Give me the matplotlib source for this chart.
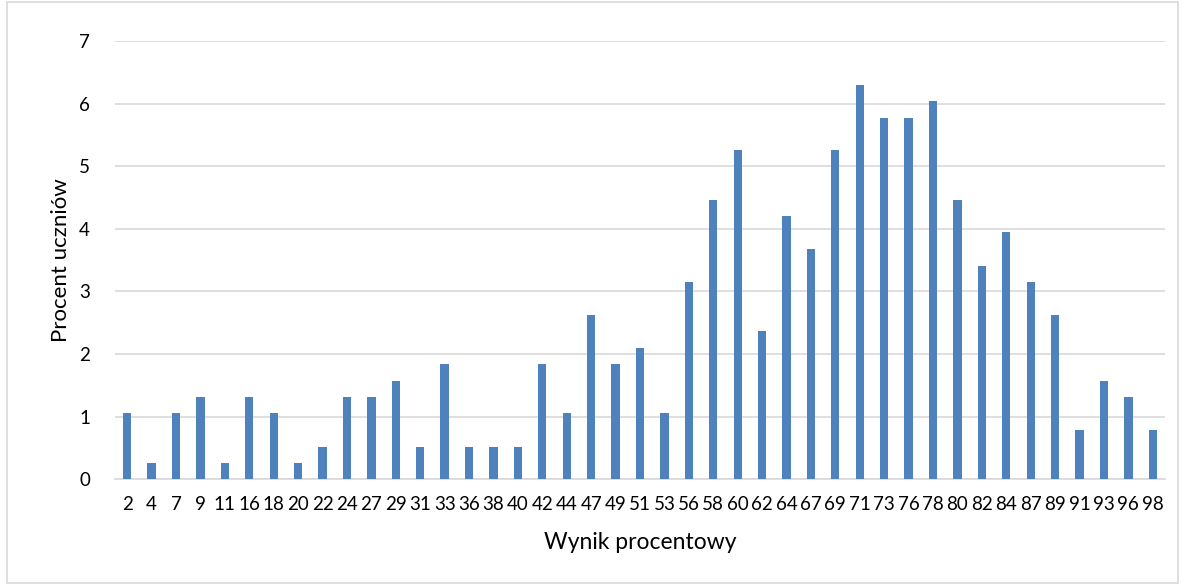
import matplotlib.pyplot as plt
from matplotlib.patches import Rectangle

# Wynik procentowy -> procent uczniów
scores = [2, 4, 7, 9, 11, 16, 18, 20, 22, 24, 27, 29, 31, 33, 36, 38, 40, 42,
          44, 47, 49, 51, 53, 56, 58, 60, 62, 64, 67, 69, 71, 73, 76, 78, 80,
          82, 84, 87, 89, 91, 93, 96, 98]
percent = [1.05, 0.26, 1.05, 1.31, 0.26, 1.31, 1.05, 0.26, 0.52, 1.31, 1.31,
           1.57, 0.52, 1.84, 0.52, 0.52, 0.52, 1.84, 1.05, 2.62, 1.84, 2.10,
           1.05, 3.15, 4.46, 5.25, 2.36, 4.20, 3.67, 5.25, 6.30, 5.77, 5.77,
           6.04, 4.46, 3.41, 3.94, 3.15, 2.62, 0.79, 1.57, 1.31, 0.79]
yticks = [0, 1, 2, 3, 4, 5, 6, 7]

plt.rcParams['font.family'] = ['Lato', 'DejaVu Sans']

fig = plt.figure(figsize=(11.82, 5.85), dpi=100)
ax = fig.add_axes([0.0973, 0.181, 0.8883, 0.749])

x = range(len(scores))
ax.bar(x, percent, width=0.34, color='#4F81BD', zorder=3)

ax.set_xlim(-0.5, len(scores) - 0.5)
ax.set_ylim(0, 7)
ax.set_yticks(yticks)
ax.set_xticks(list(x))
ax.set_xticklabels([str(s) for s in scores])
ax.tick_params(axis='both', length=0, labelsize=13.5, colors='#000000')
ax.tick_params(axis='x', pad=12)
ax.tick_params(axis='y', pad=18)
ax.grid(axis='y', color='#D9D9D9', linewidth=1.2, zorder=0)
for side in ['top', 'right', 'left']:
    ax.spines[side].set_visible(False)
ax.spines['bottom'].set_color('#D9D9D9')
ax.spines['bottom'].set_linewidth(1.2)

ax.set_xlabel('Wynik procentowy', fontsize=16.5, labelpad=14)
ax.set_ylabel('Procent uczniów', fontsize=16, labelpad=6)

fig.patches.append(Rectangle((0.006, 0.003), 0.991, 0.994, transform=fig.transFigure,
                             fill=False, edgecolor='#D9D9D9', linewidth=1.2))

plt.savefig('out.png', dpi=100)
